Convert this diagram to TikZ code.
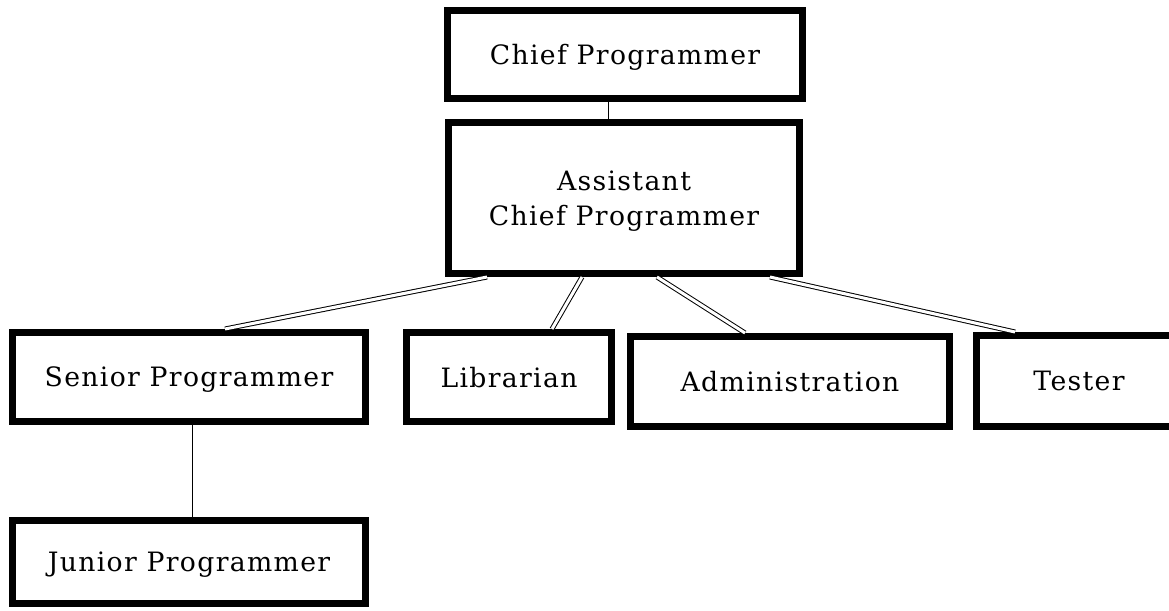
\documentclass[tikz,border=0pt]{standalone}
\usepackage{fontspec}
\setmainfont[LetterSpace=5]{DejaVu Serif}
\usetikzlibrary{calc}
\begin{document}
\begin{tikzpicture}[x=0.75pt,y=-0.75pt,
  box/.style={draw=black,line width=5.25pt,fill=white,inner sep=0pt,align=center,
    text depth=0pt,font=\fontsize{20}{26.5}\selectfont},
  single/.style={line width=0.75pt},
  dbl/.style={double=white,draw=black,line width=0.75pt,double distance=2.25pt}]
\clip (0,0) rectangle (1169,610);
\fill[white] (0,0) rectangle (1169,610);
\node[box,minimum width=266.25pt,minimum height=66pt] (chief) at (625,54.5) {Chief Programmer};
\node[box,minimum width=263.25pt,minimum height=113.25pt] (asst) at (624,198) {Assistant\\Chief Programmer};
\node[box,minimum width=264.75pt,minimum height=66.75pt] (senior) at (189,377) {Senior Programmer};
\node[box,minimum width=264.75pt,minimum height=62.25pt] (junior) at (189,562) {Junior Programmer};
\node[box,minimum width=153.75pt,minimum height=66.75pt] (lib) at (509,377) {Librarian};
\node[box,minimum width=239.25pt,minimum height=67.5pt] (admin) at (790,381.5) {Administration};
\node[box,minimum width=153.75pt,minimum height=68.25pt] (tester) at (1079,381) {Tester};
\draw[single] ($(chief.south)+(-17,0)$) -- ($(asst.north)+(-16,0)$);
\draw[single] ($(senior.south)+(3,0)$) -- ($(junior.north)+(3,0)$);
\draw[dbl] ($(asst.south west)+(42,0)$) -- ($(senior.north west)+(216,0)$);
\draw[dbl] ($(asst.south west)+(137,0)$) -- ($(lib.north west)+(149,0)$);
\draw[dbl] ($(asst.south west)+(212,0)$) -- ($(admin.north west)+(118,0)$);
\draw[dbl] ($(asst.south west)+(325,0)$) -- ($(tester.north west)+(42,0)$);
\end{tikzpicture}
\end{document}
